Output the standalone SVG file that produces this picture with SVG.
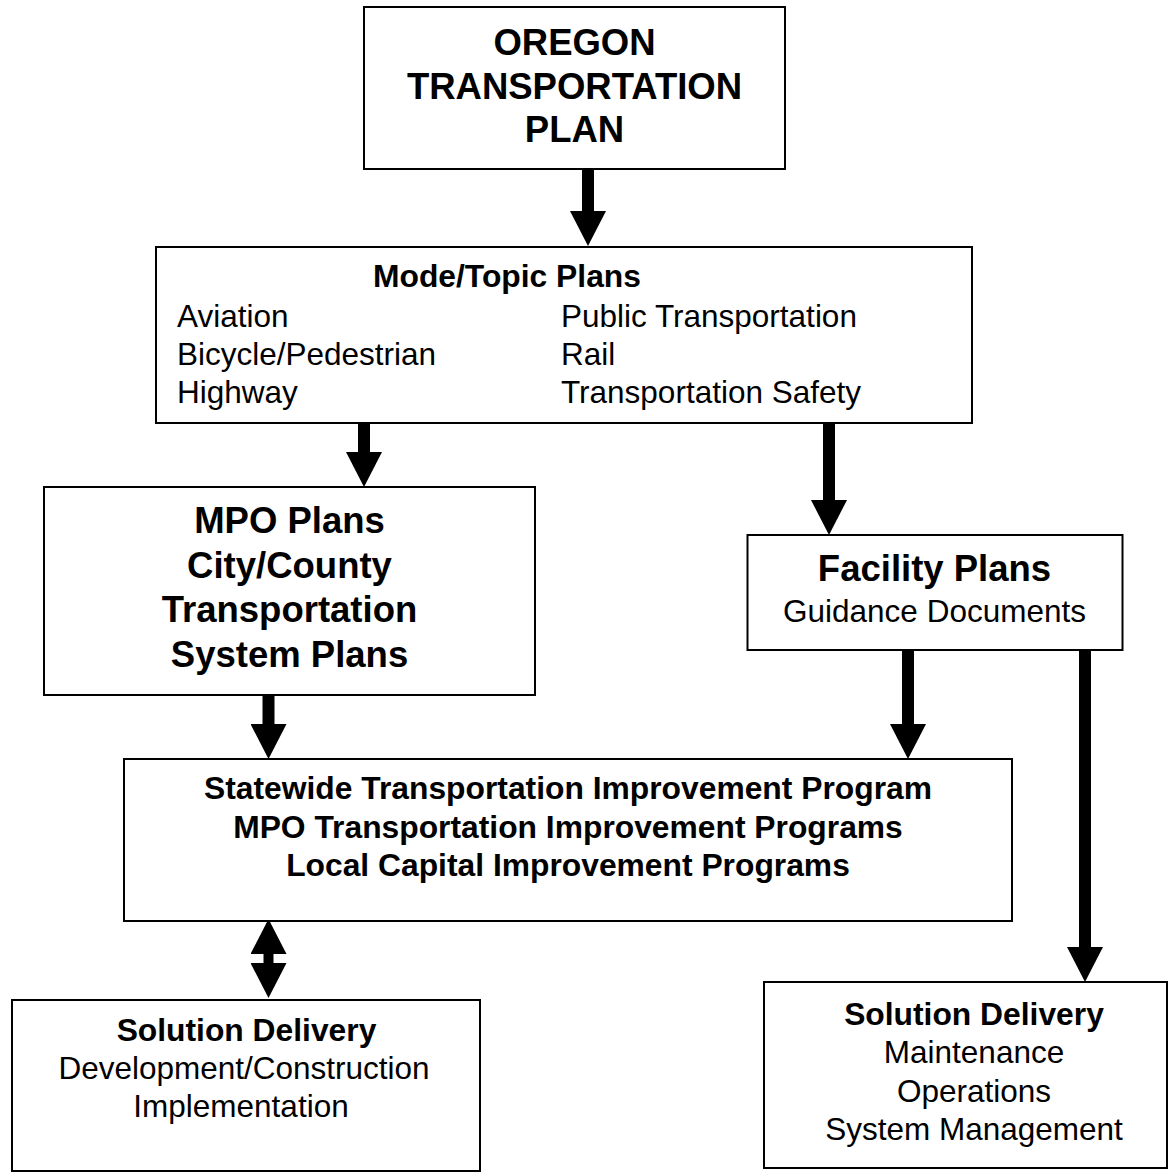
<svg xmlns="http://www.w3.org/2000/svg" width="1169" height="1173" viewBox="0 0 1169 1173">
<defs>
<style>
.box{fill:#fff;stroke:#000;stroke-width:2}
text{font-family:"Liberation Sans",Arial,Helvetica,sans-serif;fill:#000}
.big{font-size:36.5px;font-weight:bold;text-anchor:middle}
.mid{font-size:31.8px;font-weight:bold}
.reg{font-size:31.5px}
.c{text-anchor:middle}
.arr{stroke:#000;stroke-width:12;fill:none;marker-end:url(#head)}
.dbl{stroke:#000;stroke-width:10;fill:none;marker-start:url(#head);marker-end:url(#head)}
</style>
<marker id="head" markerUnits="userSpaceOnUse" markerWidth="36" markerHeight="36" viewBox="0 0 35 36" refX="2" refY="18" orient="auto-start-reverse">
<path d="M0,0 L35,18 L0,36 Z" fill="#000"/>
</marker>
</defs>
<rect width="1169" height="1173" fill="#fff"/>
<g id="connectors">
<line class="arr" x1="588" y1="169" x2="588" y2="213"/>
<line class="arr" x1="364" y1="423" x2="364" y2="454"/>
<line class="arr" x1="829" y1="423" x2="829" y2="502"/>
<line class="arr" x1="268.5" y1="695" x2="268.5" y2="726"/>
<line class="arr" x1="908" y1="650" x2="908" y2="726"/>
<line class="arr" x1="1085" y1="650" x2="1085" y2="949"/>
<line class="dbl" x1="268.5" y1="952" x2="268.5" y2="965"/>
</g>
<g id="otp">
<rect class="box" x="364" y="7" width="421" height="162"/>
<text class="big" x="574.5" y="55">OREGON</text>
<text class="big" x="574.5" y="98.5">TRANSPORTATION</text>
<text class="big" x="574.5" y="142">PLAN</text>
</g>
<g id="mode">
<rect class="box" x="156" y="247" width="816" height="176"/>
<text class="mid" x="373" y="287">Mode/Topic Plans</text>
<text class="reg" x="177" y="327">Aviation</text>
<text class="reg" x="177" y="365">Bicycle/Pedestrian</text>
<text class="reg" x="177" y="403">Highway</text>
<text class="reg" x="561" y="327">Public Transportation</text>
<text class="reg" x="561" y="365">Rail</text>
<text class="reg" x="561" y="403">Transportation Safety</text>
</g>
<g id="mpo">
<rect class="box" x="44" y="487" width="491" height="208"/>
<text class="big" x="289.5" y="533">MPO Plans</text>
<text class="big" x="289.5" y="577.5">City/County</text>
<text class="big" x="289.5" y="622">Transportation</text>
<text class="big" x="289.5" y="666.5">System Plans</text>
</g>
<g id="facility">
<rect class="box" x="747.5" y="535" width="375" height="115"/>
<text class="big" x="934.5" y="581">Facility Plans</text>
<text class="reg c" x="934.5" y="621.5">Guidance Documents</text>
</g>
<g id="stip">
<rect class="box" x="124" y="759" width="888" height="162"/>
<text class="mid c" x="568" y="799">Statewide Transportation Improvement Program</text>
<text class="mid c" x="568" y="837.5">MPO Transportation Improvement Programs</text>
<text class="mid c" x="568" y="876">Local Capital Improvement Programs</text>
</g>
<g id="delivery-left">
<rect class="box" x="12" y="1000" width="468" height="171"/>
<text class="mid c" x="246.5" y="1041">Solution Delivery</text>
<text class="reg c" x="244" y="1079">Development/Construction</text>
<text class="reg c" x="241" y="1117">Implementation</text>
</g>
<g id="delivery-right">
<rect class="box" x="764" y="982" width="403" height="186"/>
<text class="mid c" x="974" y="1025">Solution Delivery</text>
<text class="reg c" x="974" y="1063">Maintenance</text>
<text class="reg c" x="974" y="1101.5">Operations</text>
<text class="reg c" x="974" y="1140">System Management</text>
</g>
</svg>
